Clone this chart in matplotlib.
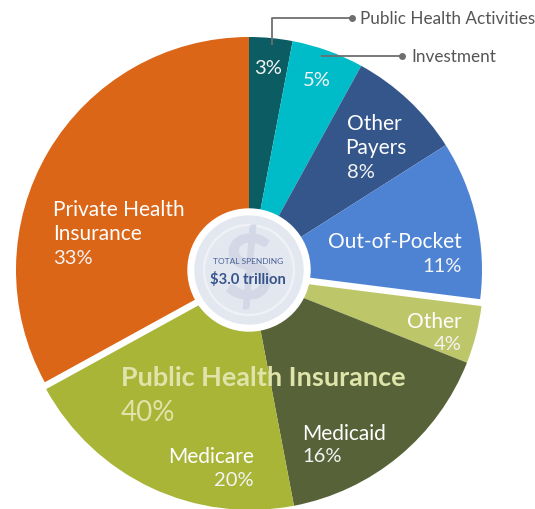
import matplotlib
matplotlib.use("Agg")
import matplotlib.pyplot as plt
from matplotlib.patches import Circle
import numpy as np

# national health spending by source, share of total (%)
labels = ["Public Health Activities", "Investment", "Other Payers", "Out-of-Pocket",
          "Other", "Medicaid", "Medicare", "Private Health Insurance"]
shares = [3, 5, 8, 11, 4, 16, 20, 33]
colors = ["#0b5d63", "#00bcc8", "#35568b", "#4e83d3",
          "#bec66a", "#576238", "#a8b537", "#dc6618"]
public_idx = [4, 5, 6]
public_label = "Public Health Insurance"
total_label = "TOTAL SPENDING"
total_value = "$3.0 trillion"

W, H = 535, 510
def Y(y):
    return H - y

fig = plt.figure(figsize=(W / 100, H / 100), dpi=100)
ax = fig.add_axes([0, 0, 1, 1])
renderer = fig.canvas.get_renderer()

def fit(t, width):
    # scale a text so its rendered width matches the reference
    bb = t.get_window_extent(renderer)
    t.set_fontsize(t.get_fontsize() * width / bb.width)

cx, cy, R = 249, Y(271), 233
wedges, _ = ax.pie(shares, colors=colors, startangle=90, counterclock=False,
                   center=(cx, cy), radius=R, wedgeprops=dict(linewidth=0))

# pull the public insurance group out as one block
cum = np.cumsum([0] + shares)
mid = (cum[public_idx[0]] + cum[public_idx[-1] + 1]) / 2 / sum(shares)
ang = np.deg2rad(90 - 360 * mid)
d = 7
for i in public_idx:
    wedges[i].set_center((cx + d * np.cos(ang), cy + d * np.sin(ang)))

ax.set_xlim(0, W)
ax.set_ylim(0, H)
ax.set_aspect("equal")
ax.axis("off")

font = ["Lato", "DejaVu Sans"]

# centre coin
ax.add_patch(Circle((cx, cy), 61, color="white", zorder=5))
ax.add_patch(Circle((cx, cy), 54, color="#e3e7f0", zorder=6))
ax.add_patch(Circle((cx, cy), 45, fill=False, ec="#eff1f7", lw=1.8, zorder=7))
ax.text(cx - 1, Y(272), "$", fontsize=64, color="#d2d8e6", ha="center", va="center",
        family=font, weight="bold", parse_math=False, zorder=8)
t = ax.text(cx - 1, Y(262), total_label, fontsize=7, color="#4a6396", ha="center",
            va="center", family=font, zorder=9)
fit(t, 71)
t = ax.text(cx - 1, Y(280), total_value, fontsize=12, color="#37548a", ha="center",
            va="center", weight="bold", family=font, parse_math=False, zorder=9)
fit(t, 75)

lab = dict(color="white", fontsize=15, family=font, zorder=4)
pct = dict(color="#f4f4f4", fontsize=14.5, family=font, zorder=4)

ax.text(268, Y(68), f"{shares[0]}%", ha="center", va="center", **pct)
ax.text(317, Y(81), f"{shares[1]}%", ha="center", va="center", **pct)
ax.text(347, Y(124), "Other", ha="left", va="center", **lab)
ax.text(345, Y(148), "Payers", ha="left", va="center", **lab)
ax.text(347, Y(172), f"{shares[2]}%", ha="left", va="center", **pct)
ax.text(462, Y(242), labels[3], ha="right", va="center", **lab)
ax.text(462, Y(267), f"{shares[3]}%", ha="right", va="center", **pct)
ax.text(462, Y(322), labels[4], ha="right", va="center", **lab)
ax.text(462, Y(344), f"{shares[4]}%", ha="right", va="center", **pct)
ax.text(302, Y(434), labels[5], ha="left", va="center", **lab)
ax.text(302, Y(457), f"{shares[5]}%", ha="left", va="center", **pct)
ax.text(254, Y(457), labels[6], ha="right", va="center", **lab)
ax.text(254, Y(481), f"{shares[6]}%", ha="right", va="center", **pct)
ax.text(53, Y(210), "Private Health", ha="left", va="center", **lab)
ax.text(53, Y(234), "Insurance", ha="left", va="center", **lab)
ax.text(53, Y(258), f"{shares[7]}%", ha="left", va="center", **pct)

pub = sum(shares[i] for i in public_idx)
t = ax.text(121, Y(378), public_label, ha="left", va="center", color="#dfe4aa",
            fontsize=20, weight="bold", family=font, zorder=4)
fit(t, 285)
ax.text(121, Y(413), f"{pub}%", ha="left", va="center", color="#dfe4aa",
        fontsize=20, family=font, zorder=4)

# leader lines for the two thin slices
line = dict(color="#6e6e6e", lw=1.3, zorder=4)
ax.plot([272, 272, 352], [Y(45), Y(19), Y(19)], **line)
ax.plot(352, Y(19), "o", color="#6e6e6e", ms=4, zorder=4)
ax.text(360, Y(19), labels[0], ha="left", va="center", color="#555555",
        fontsize=12.3, family=font)
ax.plot([322, 402], [Y(57), Y(57)], **line)
ax.plot(402, Y(57), "o", color="#6e6e6e", ms=4, zorder=4)
ax.text(411, Y(57), labels[1], ha="left", va="center", color="#555555",
        fontsize=12.3, family=font)

fig.savefig("out.png", dpi=100)
